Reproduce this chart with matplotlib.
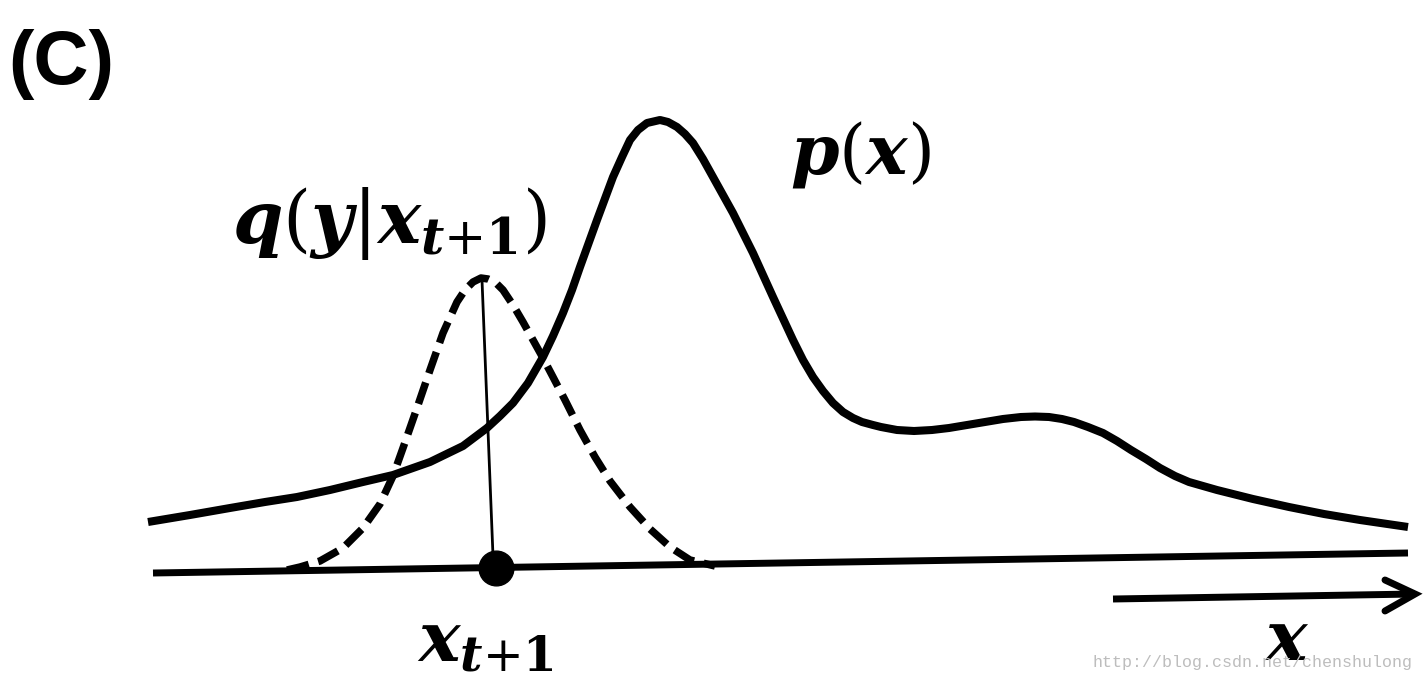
import numpy as np
import matplotlib
matplotlib.use("Agg")
import matplotlib.pyplot as plt

plt.rcParams['mathtext.fontset'] = 'custom'
plt.rcParams['mathtext.rm'] = 'DejaVu Serif'
plt.rcParams['mathtext.it'] = 'DejaVu Serif:italic:bold'
plt.rcParams['mathtext.bf'] = 'DejaVu Serif:bold'

# target density p(x) (pixel coords, y down)
p_x = [148, 190, 230, 265, 297, 330, 363, 393, 430, 463, 487, 500, 513, 528,
       543, 553, 563, 572, 580, 597, 613, 622, 630, 638, 647, 660, 668, 677,
       685, 693, 703, 713, 733, 753, 773, 793, 803, 813, 823, 833, 843, 853,
       862, 873, 881, 897, 914, 932, 949, 967, 985, 1003, 1021, 1035, 1049,
       1062, 1074, 1088, 1103, 1117, 1131, 1146, 1160, 1175, 1189, 1217,
       1253, 1289, 1324, 1360, 1408]
p_y = [522, 515, 508, 502, 497, 490, 482, 475, 462, 446, 428, 416, 403, 383,
       357, 336, 313, 290, 267, 220, 177, 157, 140, 130, 123, 120, 122, 127,
       134, 143, 159, 177, 213, 253, 297, 340, 360, 377, 391, 403, 412, 418,
       422, 425, 427, 430, 431, 430, 428, 425, 422, 419, 417, 416.5, 417,
       419, 422, 427, 433, 441, 450, 459, 468, 476, 482, 490,
       499, 507, 514, 520, 527]

# proposal q(y|x_{t+1})
q_x = [287, 300, 320, 343, 363, 380, 393, 403, 417, 430, 443, 457, 465, 473,
       481, 488, 495, 503, 513, 523, 533, 543, 553, 565, 580, 595, 610, 630,
       650, 670, 690, 715]
q_y = [570, 567, 561, 548, 528, 504, 476, 448, 408, 370, 333, 302, 290, 282,
       278, 279, 282, 290, 305, 322, 340, 358, 377, 400, 430, 457, 481, 507,
       529, 547, 560, 566]

base_x = [153, 1408]
base_y = [573, 553]

stem_x = [482, 493]
stem_y = [280, 556]
dot = (496, 568)

arrow_x = [1113, 1415]
arrow_y = [599, 594]
head_x = [1385, 1415, 1385]
head_y = [580, 594, 611]

fig = plt.figure(figsize=(14.24, 6.83), dpi=100)
ax = fig.add_axes([0, 0, 1, 1])
ax.set_xlim(0, 1424)
ax.set_ylim(683, 0)
ax.axis('off')

ax.plot(base_x, base_y, color='black', lw=5, solid_capstyle='butt')
ax.plot(p_x, p_y, color='black', lw=5.8, solid_joinstyle='round', solid_capstyle='butt')
ax.plot(q_x, q_y, color='black', lw=5.4, dashes=(3.0, 1.3), dash_capstyle='butt',
        dash_joinstyle='round')
ax.plot(stem_x, stem_y, color='black', lw=2)
ax.plot(*dot, 'o', color='black', ms=25)

ax.plot(arrow_x, arrow_y, color='black', lw=5, solid_capstyle='butt')
ax.plot(head_x, head_y, color='black', lw=5, solid_joinstyle='miter', solid_capstyle='round')

ax.text(8, 84, '(C)', fontsize=55, fontweight='bold', family='Liberation Sans', va='baseline')
ax.text(232, 243, r'$q(y|x_{t{+}\mathbf{1}})$', fontsize=52, va='baseline')
ax.text(790, 173, r'$p(x)$', fontsize=50, va='baseline')
ax.text(417, 662, r'$x_{t{+}\mathbf{1}}$', fontsize=50, va='baseline')
ax.text(1264, 660, r'$x$', fontsize=50, va='baseline')
ax.text(1092, 667, 'http://blog.csdn.net/chenshulong', fontsize=12,
        family='Liberation Mono', color='#bdbdbd', va='baseline')

fig.savefig('out.png', dpi=100)
